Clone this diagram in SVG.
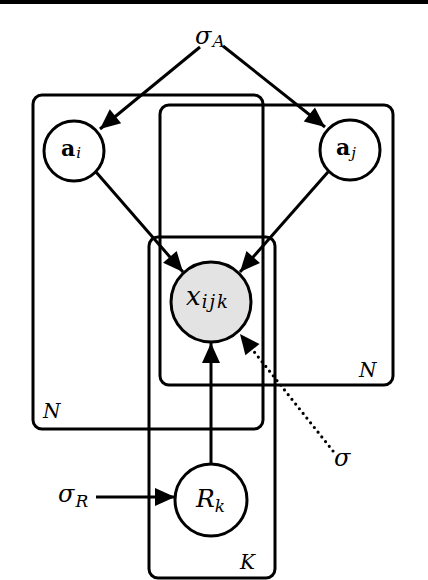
<svg xmlns="http://www.w3.org/2000/svg" width="428" height="580" viewBox="0 0 428 580">
<defs>
<marker id="ah" viewBox="0 0 10 10" refX="10" refY="5" markerWidth="22" markerHeight="20" markerUnits="userSpaceOnUse" orient="auto">
<path d="M0,0.5 L10,5 L0,9.5 z" fill="#000"/>
</marker>
</defs>
<style>
.plate{fill:none;stroke:#000;stroke-width:3}
.node{fill:#fff;stroke:#000;stroke-width:3}
.obs{fill:#e3e3e3;stroke:#000;stroke-width:3}
.edge{stroke:#000;stroke-width:3;fill:none;marker-end:url(#ah)}
.dot{stroke:#000;stroke-width:3.2;fill:none;stroke-dasharray:0 6;stroke-linecap:round;marker-end:url(#ah)}
.m{font-style:italic}
</style>
<rect x="0" y="0" width="428" height="4" fill="#000"/>
<g font-family="'DejaVu Serif', 'Liberation Serif', serif" fill="#000">
<g id="plates">
<rect id="plate-i" class="plate" x="33" y="95" width="230" height="334" rx="9"/>
<rect id="plate-j" class="plate" x="160" y="105" width="233" height="280" rx="9"/>
<rect id="plate-k" class="plate" x="149" y="237" width="126" height="341" rx="9"/>
<text class="m" x="43" y="418" font-size="20">N</text>
<text class="m" x="359" y="377" font-size="20">N</text>
<text class="m" x="240" y="569" font-size="20">K</text>
</g>
<g id="connectors">
<line class="edge" x1="200" y1="47" x2="100" y2="129"/>
<line class="edge" x1="223" y1="46" x2="325" y2="127"/>
<line class="edge" x1="96" y1="172" x2="183" y2="272"/>
<line class="edge" x1="328" y1="172" x2="240" y2="272"/>
<line class="edge" x1="211" y1="463" x2="211" y2="343"/>
<line class="edge" x1="96" y1="497" x2="175" y2="497"/>
<line class="dot" x1="333" y1="451" x2="240" y2="334"/>
</g>
<g id="sigmaA">
<text class="m" x="195" y="44" font-size="24">σ<tspan font-size="17" dy="3" dx="1">A</tspan></text>
</g>
<g id="ai">
<circle class="node" cx="74" cy="151" r="30"/>
<text x="61" y="156" font-size="22" font-weight="bold">a<tspan class="m" font-weight="normal" font-size="15" dy="2" dx="1">i</tspan></text>
</g>
<g id="aj">
<circle class="node" cx="350" cy="150" r="30"/>
<text x="336" y="155" font-size="22" font-weight="bold">a<tspan class="m" font-weight="normal" font-size="15" dy="3" dx="1">j</tspan></text>
</g>
<g id="xijk">
<circle class="obs" cx="211" cy="302" r="40"/>
<text class="m" x="186" y="305" font-size="26">x<tspan font-size="18" dy="3" dx="1" letter-spacing="2">ijk</tspan></text>
</g>
<g id="Rk">
<circle class="node" cx="211" cy="500" r="36"/>
<text class="m" x="196" y="507" font-size="25">R<tspan font-size="17" dy="5">k</tspan></text>
</g>
<g id="sigmaR">
<text class="m" x="58" y="502" font-size="24">σ<tspan font-size="17" dy="5" dx="1">R</tspan></text>
</g>
<g id="sigma">
<text class="m" x="334" y="466" font-size="24">σ</text>
</g>
</g>
</svg>
